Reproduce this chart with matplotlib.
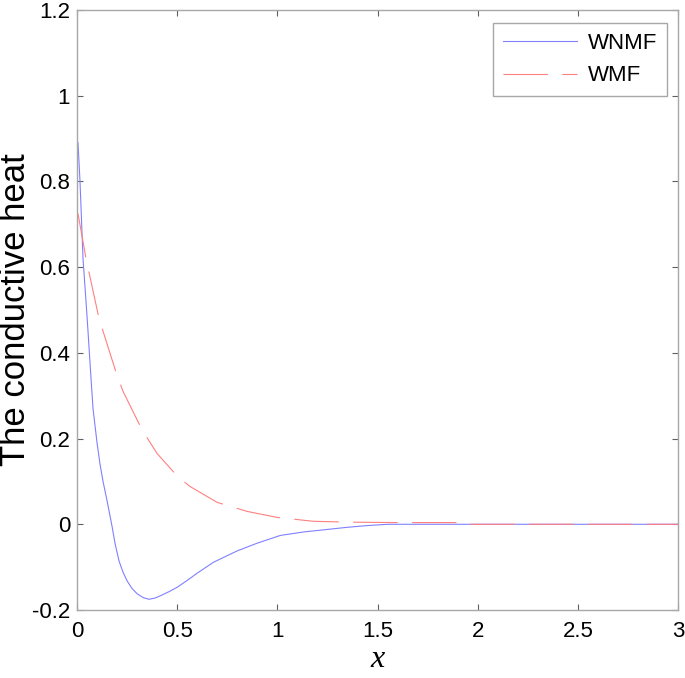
import numpy as np
import matplotlib
matplotlib.use("Agg")
import matplotlib.pyplot as plt

# values
wnmf_x = [0.005, 0.015, 0.03, 0.045, 0.055, 0.07, 0.08, 0.10, 0.115, 0.13, 0.15, 0.175, 0.19,
          0.21, 0.23, 0.25, 0.275, 0.30, 0.33, 0.36, 0.39, 0.42, 0.46, 0.5, 0.55, 0.6, 0.68,
          0.715, 0.8, 0.9, 1.015, 1.13, 1.25, 1.35, 1.45, 1.55, 1.7, 2.0, 2.5, 3.0]
wnmf_y = [0.89, 0.80, 0.62, 0.52, 0.45, 0.34, 0.27, 0.19, 0.14, 0.10, 0.055, -0.005, -0.045,
          -0.086, -0.112, -0.132, -0.150, -0.162, -0.171, -0.175, -0.172, -0.166, -0.157, -0.147, -0.131, -0.114, -0.089,
          -0.081, -0.062, -0.044, -0.026, -0.018, -0.012, -0.007, -0.003, 0.0, 0.0, 0.0, 0.0, 0.0]

wmf_x = [0.005, 0.045, 0.11, 0.2, 0.23, 0.325, 0.4, 0.505, 0.565, 0.7, 0.85, 1.0, 1.18,
         1.35, 1.6, 1.89, 1.9, 2.5, 3.0]
wmf_y = [0.725, 0.62, 0.48, 0.347, 0.31, 0.22, 0.165, 0.11, 0.088, 0.051, 0.03, 0.016, 0.007,
         0.005, 0.004, 0.004, 0.0, 0.0, 0.0]

xticks = [0, 0.5, 1, 1.5, 2, 2.5, 3]
xticklabels = ["0", "0.5", "1", "1.5", "2", "2.5", "3"]
yticks = [-0.2, 0, 0.2, 0.4, 0.6, 0.8, 1.0, 1.2]
yticklabels = ["-0.2", "0", "0.2", "0.4", "0.6", "0.8", "1", "1.2"]

plt.rcParams["font.family"] = ["Liberation Sans", "DejaVu Sans"]

fig = plt.figure(figsize=(6.85, 6.78), dpi=100)
ax = fig.add_axes([77 / 685, 1 - 610 / 678, 601 / 685, 600 / 678])

ax.plot(wnmf_x, wnmf_y, color=(0.5, 0.5, 1.0), lw=0.8, label="WNMF", zorder=2)
ax.plot(wmf_x, wmf_y, color=(1.0, 0.5, 0.5), lw=0.8, dashes=(40, 13), label="WMF", zorder=3)

ax.set_xlim(0, 3)
ax.set_ylim(-0.2, 1.2)
ax.set_xticks(xticks)
ax.set_xticklabels(xticklabels)
ax.set_yticks(yticks)
ax.set_yticklabels(yticklabels)

grey = "#a8a8a8"
for s in ax.spines.values():
    s.set_color(grey)
    s.set_linewidth(1.0)
ax.tick_params(direction="in", length=4, width=0.8, color="#606060", labelsize=16,
               top=True, right=True)
ax.tick_params(axis="x", pad=8)
ax.tick_params(axis="y", pad=5)

ax.set_ylabel("The conductive heat", fontsize=25)
ax.yaxis.set_label_coords(-0.075, 0.5)
ax.set_xlabel("x", fontsize=23, family="Liberation Serif", style="italic", labelpad=2)

leg = ax.legend(loc="upper right", bbox_to_anchor=(0.982, 0.978), fontsize=16,
                frameon=True, fancybox=False, shadow=False, framealpha=1,
                handlelength=3.3, handletextpad=0.5, labelspacing=0.5,
                borderpad=0.45, borderaxespad=0)
leg.get_frame().set_edgecolor(grey)
leg.get_frame().set_linewidth(1.0)

fig.savefig("out.png", dpi=100)
